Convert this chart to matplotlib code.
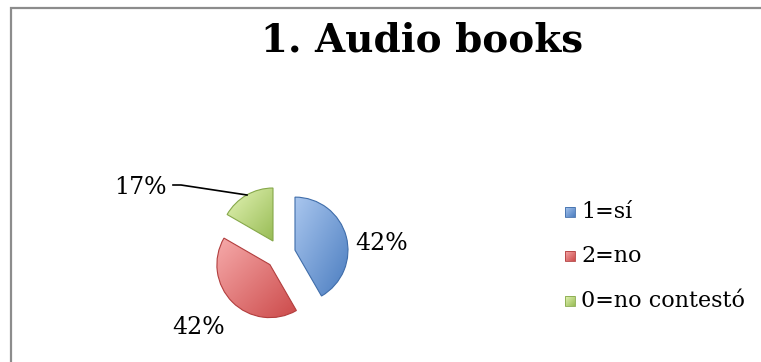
import numpy as np
import matplotlib
matplotlib.use("Agg")
import matplotlib.pyplot as plt
from matplotlib.colors import to_rgb
from matplotlib.patches import Rectangle

# ---- data ----
labels = ["1=sí", "2=no", "0=no contestó"]
counts = [5, 5, 2]
light_colors = ["#A9C6EE", "#F6AAAA", "#E4F4B6"]
dark_colors = ["#4B7DC0", "#CC4A4A", "#98BC55"]
edge_colors = ["#3F6DAA", "#B23E3E", "#86A84A"]
title = "1. Audio books"

plt.rcParams['font.family'] = ['DejaVu Serif']

W, H = 761, 362
fig = plt.figure(figsize=(W / 100, H / 100), dpi=100)
ax = fig.add_axes([0, 0, 1, 1])


def reset_view():
    ax.set_xlim(0, W)
    ax.set_ylim(0, H)
    ax.set_aspect('equal')
    ax.axis('off')


def gradient_fill(patch, c_light, c_dark, x0, x1, y0, y1, z):
    # linear shading, light at the upper left, darker to the lower right
    n = 96
    yy, xx = np.mgrid[0:1:n * 1j, 0:1:n * 1j]
    t = np.clip((xx + yy) / 2, 0, 1)[:, :, None]
    img = (1 - t) * np.array(to_rgb(c_light)) + t * np.array(to_rgb(c_dark))
    im = ax.imshow(img, extent=(x0, x1, y0, y1), origin='upper',
                   zorder=z, interpolation='bilinear')
    im.set_clip_path(patch)
    reset_view()


# exploded pie, first slice starts at 12 o'clock going clockwise
# (explode is in data units here since radius is not 1)
radius = 53
center = (280.5, 108)
wedges, _ = ax.pie(counts, radius=radius, center=center, startangle=90,
                   counterclock=False, explode=[15] * len(counts),
                   frame=True)
reset_view()

for w, cl, cd, ce in zip(wedges, light_colors, dark_colors, edge_colors):
    w.set_facecolor('none')
    w.set_edgecolor(ce)
    w.set_linewidth(0.8)
    w.set_zorder(3)
    bb = w.get_path().get_extents(w.get_patch_transform())
    gradient_fill(w, cl, cd, bb.x0, bb.x1, bb.y0, bb.y1, 2)

# percentage labels
total = sum(counts)
pct = [f"{round(c / total * 100)}%" for c in counts]
label_pos = [(382, 119), (199, 35), (140, 175)]
for (x, y), s in zip(label_pos, pct):
    ax.text(x, y, s, fontsize=17, ha='center', va='center', color='black')

# leader line for the small slice
ax.plot([173, 181, 247], [177, 177, 167], color='black', lw=1.2, zorder=4)

# title
ax.text(422, 321, title, fontsize=28, fontweight='bold', ha='center',
        va='center', color='black')

# legend
leg_y = [150, 106, 61]
for y, lab, cl, cd, ce in zip(leg_y, labels, light_colors, dark_colors, edge_colors):
    sq = Rectangle((565, y - 5), 10, 10, facecolor='none', edgecolor=ce,
                   lw=0.6, zorder=3)
    ax.add_patch(sq)
    gradient_fill(sq, cl, cd, 565, 575, y - 5, y + 5, 2)
    ax.text(581, y, lab, fontsize=16, ha='left', va='center', color='black')

# chart border (top and left)
ax.plot([11, 11, W + 5], [-5, H - 8, H - 8], color='#8C8C8C', lw=1.6,
        solid_joinstyle='miter', zorder=1)
reset_view()

fig.savefig("out.png", dpi=100)
